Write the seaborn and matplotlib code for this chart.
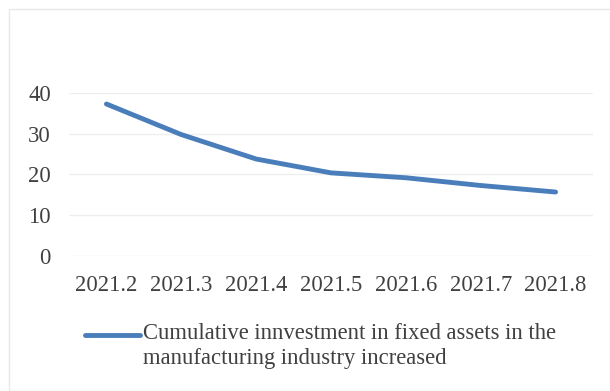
import matplotlib
matplotlib.use("Agg")
import matplotlib.pyplot as plt
import seaborn as sns
import pandas as pd
from matplotlib.lines import Line2D
from matplotlib.patches import Rectangle

categories = ["2021.2", "2021.3", "2021.4", "2021.5", "2021.6", "2021.7", "2021.8"]
values = [37.3, 29.8, 23.8, 20.4, 19.2, 17.3, 15.7]
yticks = [0, 10, 20, 30, 40]
series_label = "Cumulative innvestment in fixed assets in the\nmanufacturing industry increased"

sns.set_style("white")
plt.rcParams["font.family"] = ["Liberation Serif", "DejaVu Serif"]

W, H = 610, 391
fig = plt.figure(figsize=(W / 100, H / 100), dpi=100)
fig.patch.set_facecolor("white")

ax = fig.add_axes([69 / W, 1 - 256 / H, (593 - 69) / W, (256 - 93) / H])
df = pd.DataFrame({"x": range(len(categories)), "y": values})
line_color = "#4a7ebb"
sns.lineplot(data=df, x="x", y="y", ax=ax, color=line_color, linewidth=3.5,
             solid_capstyle="round", solid_joinstyle="round")

ax.set_xlim(-0.5, len(categories) - 0.5)
ax.set_ylim(0, 40)
ax.set_xticks(range(len(categories)))
ax.set_xticklabels(categories)
ax.set_yticks(yticks)
ax.set_yticklabels([str(v) for v in yticks])
ax.set_xlabel("")
ax.set_ylabel("")
for s in ax.spines.values():
    s.set_visible(False)
ax.grid(axis="y", color="#efefef", linewidth=1.0)
ax.set_axisbelow(True)
ax.tick_params(axis="x", length=0, pad=14, labelsize=16.3, labelcolor="#404040")
ax.tick_params(axis="y", length=0, pad=13, labelsize=16.3, labelcolor="#404040")

# frame around the chart
fig.add_artist(Rectangle((9 / W, 0), 1 - 9 / W, 1 - 9 / H, transform=fig.transFigure,
                         fill=False, edgecolor="#e8e8e8", linewidth=1.0))

# legend
fig.add_artist(Line2D([85 / W, 140 / W], [1 - 335 / H, 1 - 335 / H], transform=fig.transFigure,
                      color=line_color, linewidth=3.5, solid_capstyle="round"))
fig.text(143 / W, 1 - 323 / H, series_label, fontsize=16.3, color="#404040",
         va="top", ha="left", linespacing=1.25)

fig.savefig("out.png", dpi=100)
